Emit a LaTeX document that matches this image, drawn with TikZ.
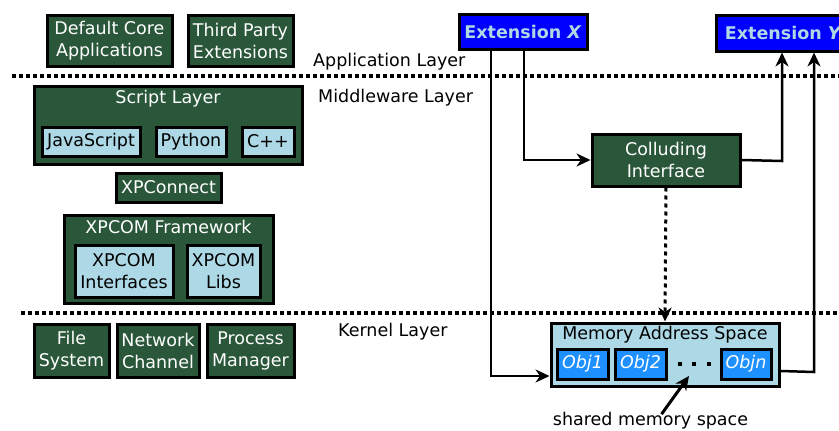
\documentclass[tikz,border=0pt]{standalone}
\usepackage{fontspec}
\setmainfont{DejaVu Sans}
\usetikzlibrary{arrows.meta,calc}
\definecolor{boxgreen}{HTML}{2A573A}
\definecolor{paleblue}{HTML}{ADD8E6}
\definecolor{objblue}{HTML}{1E90FF}
\definecolor{extblue}{HTML}{0000FF}
\begin{document}
\begin{tikzpicture}[x=1pt,y=-1pt,
  txt/.style={font=\fontsize{17.5}{22}\selectfont},
  greenbox/.style={txt,draw=black,line width=3pt,fill=boxgreen,text=white,
    inner sep=0pt,align=center},
  palebox/.style={txt,draw=black,line width=3pt,fill=paleblue,text=black,
    inner sep=0pt,align=center},
  objbox/.style={txt,draw=black,line width=3pt,fill=objblue,text=white,
    inner sep=0pt,align=center,font=\fontsize{17.5}{22}\selectfont\itshape},
  extbox/.style={draw=black,line width=3pt,fill=extblue,text=paleblue,
    inner sep=0pt,font=\fontsize{17.5}{22}\selectfont\bfseries},
  layerline/.style={line width=4pt,dash pattern=on 4pt off 3pt},
  conn/.style={line width=2.5pt},
  arr/.style={conn,-{Stealth[length=14pt,width=13pt,inset=4.5pt]}},
  plain/.style={txt,inner sep=0pt,anchor=base west},
]
\useasboundingbox (0,0) rectangle (839,431);

% ---- layer separators and labels
\draw[layerline] (12,75.5) -- (839,75.5);
\draw[layerline] (21,313) -- (839,313);
\node[plain] (applab) at (313,66) {Application Layer};
\node[plain] (midlab) at (318,102) {Middleware Layer};
\node[plain] (kerlab) at (338,336) {Kernel Layer};

% ---- application layer
\node[greenbox,minimum width=125,minimum height=51] (dca) at (109.5,40.5)
  {Default Core\\Applications};
\node[greenbox,minimum width=105,minimum height=51] (tpe) at (240.5,40.5)
  {Third Party\\Extensions};

% ---- middleware: script layer
\node[greenbox,minimum width=268,minimum height=78] (script) at (168,125) {};
\node[txt,text=white,anchor=base] (scripttitle) at (168,103) {Script Layer};
\node[palebox,minimum width=98,minimum height=29] (js) at (91,141.5) {JavaScript};
\node[palebox,minimum width=70,minimum height=29] (py) at (191,141.5) {Python};
\node[palebox,minimum width=52,minimum height=29] (cpp) at (268,141.5) {C++};

\node[greenbox,minimum width=105,minimum height=29] (xpc) at (168.5,187.5) {XPConnect};

% ---- middleware: XPCOM framework
\node[greenbox,minimum width=209,minimum height=88] (xpcom) at (168.5,259) {};
\node[txt,text=white,anchor=base] (xpcomtitle) at (168.5,233) {XPCOM Framework};
\node[palebox,minimum width=98,minimum height=52] (xpi) at (124,271) {XPCOM\\Interfaces};
\node[palebox,minimum width=73,minimum height=52] (xpl) at (223.5,271) {XPCOM\\Libs};

% ---- kernel layer
\node[greenbox,minimum width=75,minimum height=53] (fs) at (71.5,350.5) {File\\System};
\node[greenbox,minimum width=82,minimum height=53] (nc) at (158,350.5) {Network\\Channel};
\node[greenbox,minimum width=87,minimum height=53] (pm) at (250.5,350.5) {Process\\Manager};

% ---- extensions
\node[extbox,minimum width=128,minimum height=35] (extx) at (523,31.5)
  {Extension \textit{X}};
\node[extbox,minimum width=134,minimum height=36,anchor=west,inner xsep=5pt]
  (exty) at (715,33) {Extension \textit{Y}\hspace{8pt}};

% ---- colluding interface
\node[greenbox,minimum width=148,minimum height=52] (coll) at (666,160)
  {Colluding\\Interface};

% ---- memory address space
\node[palebox,minimum width=228,minimum height=63] (mem) at (665,354.5) {};
\node[txt,anchor=base] (memtitle) at (665,339) {Memory Address Space};
\node[objbox,minimum width=51,minimum height=30] (obj1) at (582.5,364) {Obj1};
\node[objbox,minimum width=51,minimum height=30] (obj2) at (640.5,364) {Obj2};
\node[objbox,minimum width=50,minimum height=30] (objn) at (746,364) {Objn};
\fill (678,362) rectangle +(3.5,3.5);
\fill (692,362) rectangle +(3.5,3.5);
\fill (707,362) rectangle +(3.5,3.5);
\coordinate (dotsgap) at (689,376);

\node[txt,anchor=base] (share) at (650.5,425) {shared memory space};

% ---- connectors
\draw[arr] ([xshift=-32pt]extx.south) |- (mem.west |- 0,376);
\draw[arr] ([xshift=1pt]extx.south) |- (coll.west);
\draw[arr] (coll.east) -- (782,161) -- (exty.south west -| 782,0);
\draw[arr] (mem.east |- 0,371) -- (814,372) -- (exty.south west -| 814,0);
\draw[arr,line width=3pt,dash pattern=on 4pt off 4pt] (coll.south) -- (mem.north);
\draw[arr,line width=3pt] ([xshift=11pt,yshift=-6pt]share.north) -- (dotsgap);
\end{tikzpicture}
\end{document}
